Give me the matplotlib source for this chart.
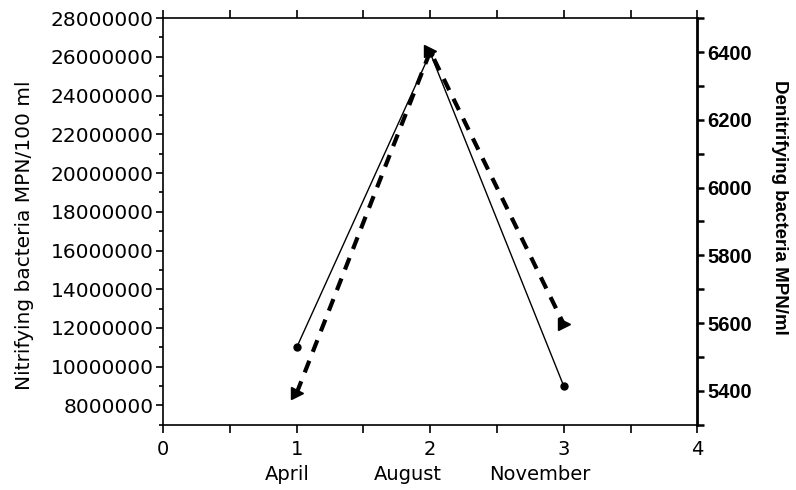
import matplotlib.pyplot as plt
from matplotlib.ticker import MultipleLocator

# data
x = [1, 2, 3]
months = ['April', 'August', 'November']
nitrifying = [11000000, 26200000, 9000000]   # MPN/100 ml, left axis
denitrifying = [5394, 6402, 5597]            # MPN/ml, right axis

plt.rcParams['font.family'] = ['DejaVu Sans']

fig = plt.figure(figsize=(7.96, 4.9), dpi=100)
ax = fig.add_axes([0.205, 0.133, 0.671, 0.830])
ax2 = ax.twinx()

ax.plot(x, nitrifying, color='black', lw=1.0, marker='o', ms=5, zorder=3)
ax2.plot(x, denitrifying, color='black', lw=3.0, ls=(0, (3.0, 2.3)),
         marker='>', ms=8, zorder=3)

ax.set_xlim(0, 4)
ax.set_ylim(7000000, 28000000)
ax2.set_ylim(5300, 6500)

ax.xaxis.set_major_locator(MultipleLocator(1))
ax.xaxis.set_minor_locator(MultipleLocator(0.5))
ax.yaxis.set_major_locator(MultipleLocator(2000000))
ax.yaxis.set_minor_locator(MultipleLocator(1000000))
ax2.yaxis.set_major_locator(MultipleLocator(200))
ax2.yaxis.set_minor_locator(MultipleLocator(100))

ax.ticklabel_format(axis='y', style='plain', useOffset=False)
ax.tick_params(axis='y', which='major', length=5, width=1.2, labelsize=14.5, pad=2)
ax.tick_params(axis='y', which='minor', length=3, width=1.2)
ax.tick_params(axis='x', which='both', length=6, width=1.2, labelsize=14, pad=5,
               top=True, direction='out')
ax2.tick_params(axis='y', which='major', length=5, width=1.8, pad=2)
ax2.tick_params(axis='y', which='minor', length=5, width=1.8)
for lab in ax2.get_yticklabels():
    lab.set_fontweight('bold')
    lab.set_family(['Liberation Sans', 'DejaVu Sans'])
    lab.set_fontsize(14.5)

for sp in ['left', 'bottom', 'top']:
    ax.spines[sp].set_linewidth(1.2)
ax2.spines['right'].set_linewidth(2.0)
for sp in ['left', 'bottom', 'top']:
    ax2.spines[sp].set_visible(False)

ax.set_ylabel('Nitrifying bacteria MPN/100 ml', fontsize=14.5, labelpad=12)
ax.yaxis.label.set_y(0.467)
ax2.set_ylabel('Denitrifying bacteria MPN/ml', fontsize=13.5, fontweight='bold',
               family=['Liberation Sans', 'DejaVu Sans'],
               rotation=270, labelpad=26)
ax2.yaxis.label.set_y(0.535)

month_x = [0.93, 1.83, 2.82]
for mx, m in zip(month_x, months):
    ax.text(mx, -0.122, m, transform=ax.get_xaxis_transform(), ha='center',
            va='center', fontsize=14)

fig.savefig('out.png', dpi=100)
